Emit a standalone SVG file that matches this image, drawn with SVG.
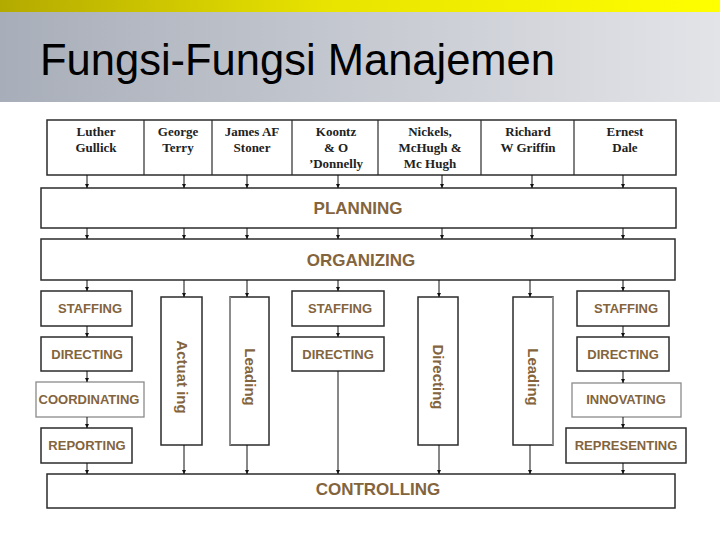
<svg xmlns="http://www.w3.org/2000/svg" width="720" height="540" viewBox="0 0 720 540">
<defs>
<linearGradient id="yel" x1="0" y1="0" x2="1" y2="0">
<stop offset="0" stop-color="#b3aa00"/>
<stop offset="0.45" stop-color="#e8e300"/>
<stop offset="1" stop-color="#ffff00"/>
</linearGradient>
<linearGradient id="gry" x1="0" y1="0" x2="1" y2="0">
<stop offset="0" stop-color="#a8aeb9"/>
<stop offset="1" stop-color="#e3e4e8"/>
</linearGradient>
<marker id="ah" viewBox="0 0 6 6" refX="6" refY="3" markerWidth="4" markerHeight="4" orient="auto" markerUnits="userSpaceOnUse">
<path d="M0,0 L6,3 L0,6 z" fill="#111"/>
</marker>
<style>
.box{fill:#fff;stroke:#2b2b2b;stroke-width:1.5}
.lbox{fill:#fff;stroke:#8a8a8a;stroke-width:1.3}
.big{font-family:"Liberation Sans",Arial,sans-serif;font-weight:bold;font-size:17px;fill:#83643d;text-anchor:middle}
.sm{font-family:"Liberation Sans",Arial,sans-serif;font-weight:bold;font-size:13px;fill:#83643d;text-anchor:middle}
.vt{font-family:"Liberation Sans",Arial,sans-serif;font-weight:bold;font-size:15px;fill:#83643d;text-anchor:middle}
.nm{font-family:"Liberation Serif","Times New Roman",serif;font-weight:bold;font-size:13px;fill:#222;text-anchor:middle}
.cn line{stroke:#111;stroke-width:1;marker-end:url(#ah)}
</style>
</defs>
<rect x="0" y="0" width="720" height="540" fill="#fff"/>
<rect x="0" y="0" width="720" height="12" fill="url(#yel)"/>
<rect x="0" y="12" width="720" height="90" fill="url(#gry)"/>
<text x="40" y="75" font-family="Liberation Sans,Arial,sans-serif" font-size="43.5" fill="#000">Fungsi-Fungsi Manajemen</text>

<g id="names">
<rect class="box" x="47" y="120" width="629" height="55"/>
<line x1="144" y1="120" x2="144" y2="175" stroke="#2b2b2b" stroke-width="1.2"/>
<line x1="212" y1="120" x2="212" y2="175" stroke="#2b2b2b" stroke-width="1.2"/>
<line x1="292" y1="120" x2="292" y2="175" stroke="#2b2b2b" stroke-width="1.2"/>
<line x1="378" y1="120" x2="378" y2="175" stroke="#2b2b2b" stroke-width="1.2"/>
<line x1="481" y1="120" x2="481" y2="175" stroke="#2b2b2b" stroke-width="1.2"/>
<line x1="574" y1="120" x2="574" y2="175" stroke="#2b2b2b" stroke-width="1.2"/>
<text class="nm" x="96" y="136">Luther</text>
<text class="nm" x="96" y="152">Gullick</text>
<text class="nm" x="178" y="136">George</text>
<text class="nm" x="178" y="152">Terry</text>
<text class="nm" x="252" y="136">James AF</text>
<text class="nm" x="252" y="152">Stoner</text>
<text class="nm" x="336" y="136">Koontz</text>
<text class="nm" x="336" y="152">&amp; O</text>
<text class="nm" x="336" y="168">’Donnelly</text>
<text class="nm" x="430" y="136">Nickels,</text>
<text class="nm" x="430" y="152">McHugh &amp;</text>
<text class="nm" x="430" y="168">Mc Hugh</text>
<text class="nm" x="528" y="136">Richard</text>
<text class="nm" x="528" y="152">W Griffin</text>
<text class="nm" x="625" y="136">Ernest</text>
<text class="nm" x="625" y="152">Dale</text>
</g>

<g id="planning"><rect class="box" x="41" y="188" width="635" height="40"/><text class="big" x="358" y="214">PLANNING</text></g>
<g id="organizing"><rect class="box" x="41" y="239" width="634" height="41"/><text class="big" x="361" y="266">ORGANIZING</text></g>
<g id="controlling"><rect class="box" x="47" y="474" width="628" height="34"/><text class="big" x="378" y="495">CONTROLLING</text></g>

<g id="staffing1"><rect class="box" x="41" y="291" width="91" height="35"/><text class="sm" x="90" y="313">STAFFING</text></g>
<g id="directing1"><rect class="box" x="41" y="337" width="91" height="34"/><text class="sm" x="87" y="359">DIRECTING</text></g>
<g id="coordinating"><rect class="lbox" x="36" y="382" width="108" height="35"/><text class="sm" x="89" y="404">COORDINATING</text></g>
<g id="reporting"><rect class="box" x="41" y="428" width="91" height="35"/><text class="sm" x="87" y="450">REPORTING</text></g>

<g id="actuating"><rect class="box" x="161" y="297" width="41" height="148"/><text class="vt" transform="translate(181.5,377) rotate(90)" x="0" y="5">Actuat ing</text></g>
<g id="leading1"><rect class="box" x="230" y="297" width="39" height="148"/><line x1="230" y1="297" x2="230" y2="445" stroke="#999" stroke-width="1.6"/><text class="vt" transform="translate(249.5,377) rotate(90)" x="0" y="5">Leading</text></g>

<g id="staffing2"><rect class="box" x="292" y="291" width="92" height="35"/><text class="sm" x="340" y="313">STAFFING</text></g>
<g id="directing2"><rect class="box" x="292" y="337" width="92" height="34"/><text class="sm" x="338" y="359">DIRECTING</text></g>

<g id="directing3"><rect class="box" x="418" y="297" width="40" height="148"/><text class="vt" transform="translate(438,377) rotate(90)" x="0" y="5">Directing</text></g>
<g id="leading2"><rect class="box" x="513" y="297" width="40" height="148"/><line x1="553" y1="297" x2="553" y2="445" stroke="#999" stroke-width="1.6"/><text class="vt" transform="translate(533,377) rotate(90)" x="0" y="5">Leading</text></g>

<g id="staffing3"><rect class="box" x="577" y="291" width="92" height="35"/><text class="sm" x="626" y="313">STAFFING</text></g>
<g id="directing4"><rect class="box" x="577" y="337" width="92" height="34"/><text class="sm" x="623" y="359">DIRECTING</text></g>
<g id="innovating"><rect class="lbox" x="572" y="383" width="109" height="34"/><text class="sm" x="626" y="404">INNOVATING</text></g>
<g id="representing"><rect class="box" x="566" y="428" width="120" height="35"/><text class="sm" x="626" y="450">REPRESENTING</text></g>

<g id="connectors" class="cn">
<line x1="87" y1="175" x2="87" y2="188"/>
<line x1="184" y1="175" x2="184" y2="188"/>
<line x1="247" y1="175" x2="247" y2="188"/>
<line x1="338" y1="175" x2="338" y2="188"/>
<line x1="442" y1="175" x2="442" y2="188"/>
<line x1="532" y1="175" x2="532" y2="188"/>
<line x1="623" y1="175" x2="623" y2="188"/>
<line x1="87" y1="228" x2="87" y2="239"/>
<line x1="184" y1="228" x2="184" y2="239"/>
<line x1="247" y1="228" x2="247" y2="239"/>
<line x1="338" y1="228" x2="338" y2="239"/>
<line x1="442" y1="228" x2="442" y2="239"/>
<line x1="532" y1="228" x2="532" y2="239"/>
<line x1="623" y1="228" x2="623" y2="239"/>
<line x1="87" y1="280" x2="87" y2="291"/>
<line x1="184" y1="280" x2="184" y2="297"/>
<line x1="247" y1="280" x2="247" y2="297"/>
<line x1="338" y1="280" x2="338" y2="291"/>
<line x1="439" y1="280" x2="439" y2="297"/>
<line x1="530" y1="280" x2="530" y2="297"/>
<line x1="623" y1="280" x2="623" y2="291"/>
<line x1="87" y1="326" x2="87" y2="337"/>
<line x1="87" y1="371" x2="87" y2="382"/>
<line x1="87" y1="417" x2="87" y2="428"/>
<line x1="87" y1="463" x2="87" y2="474"/>
<line x1="338" y1="326" x2="338" y2="337"/>
<line x1="338" y1="371" x2="338" y2="474"/>
<line x1="623" y1="326" x2="623" y2="337"/>
<line x1="623" y1="371" x2="623" y2="383"/>
<line x1="623" y1="417" x2="623" y2="428"/>
<line x1="623" y1="463" x2="623" y2="474"/>
<line x1="184" y1="445" x2="184" y2="474"/>
<line x1="247" y1="445" x2="247" y2="474"/>
<line x1="439" y1="445" x2="439" y2="474"/>
<line x1="530" y1="445" x2="530" y2="474"/>
</g>
</svg>
